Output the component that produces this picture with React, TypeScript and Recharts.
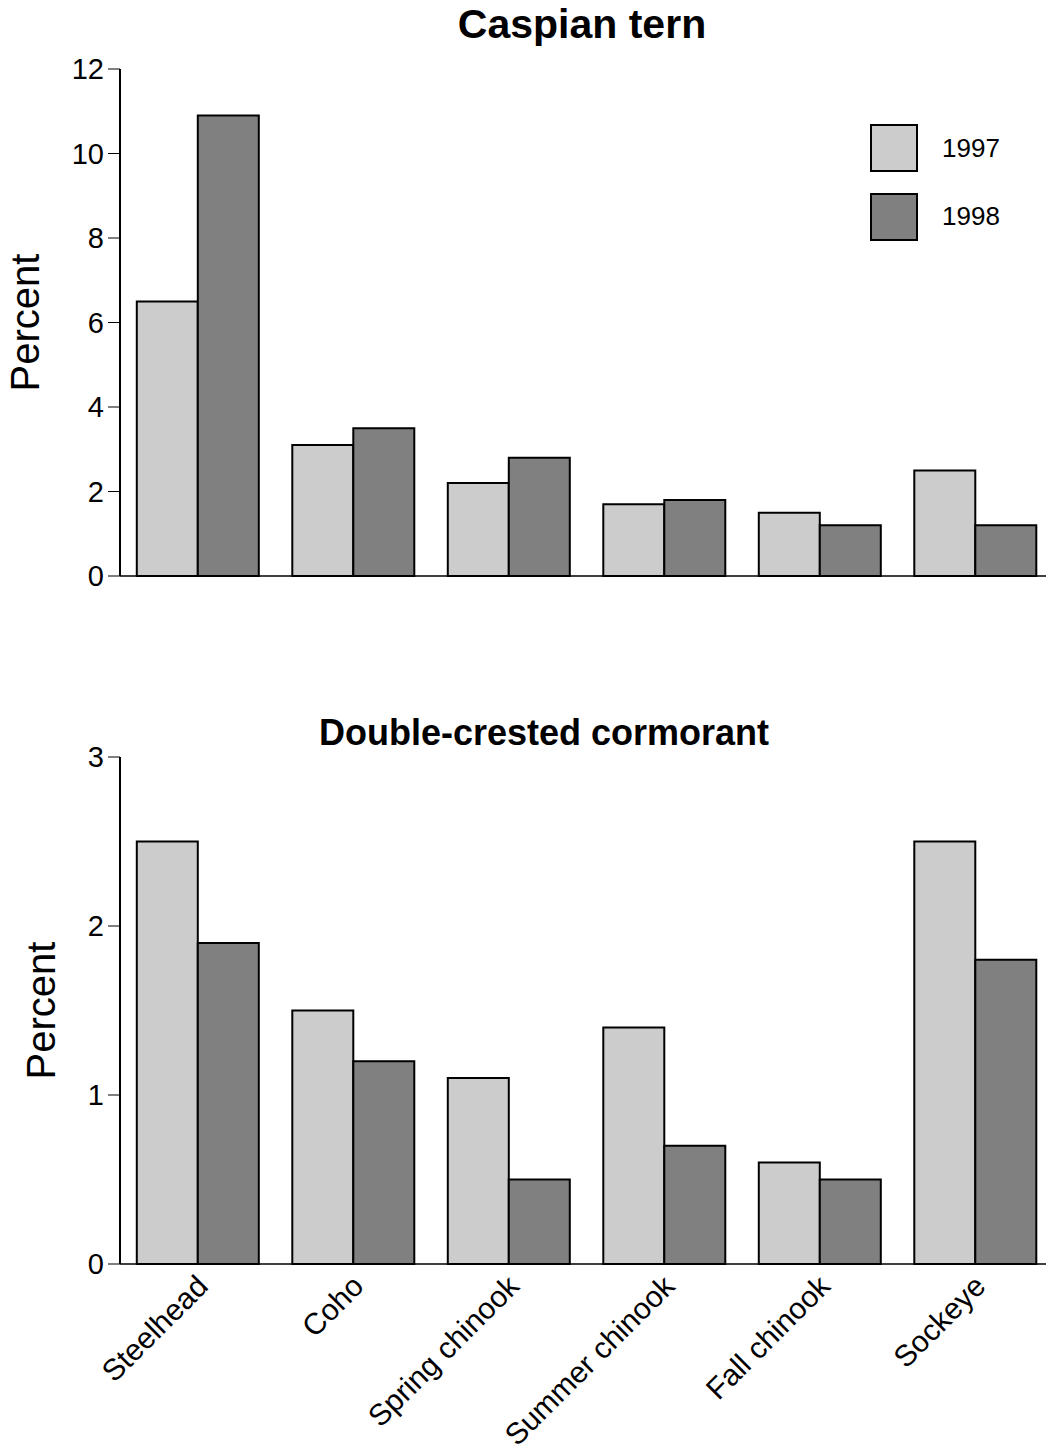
import React from 'react';
import { BarChart, Bar, XAxis, YAxis, Legend } from 'recharts';

const FONT = '"Liberation Sans", Arial, Helvetica, sans-serif';

const categories = ['Steelhead', 'Coho', 'Spring chinook', 'Summer chinook', 'Fall chinook', 'Sockeye'];
const tern1997 = [6.5, 3.1, 2.2, 1.7, 1.5, 2.5];
const tern1998 = [10.9, 3.5, 2.8, 1.8, 1.2, 1.2];
const cormorant1997 = [2.5, 1.5, 1.1, 1.4, 0.6, 2.5];
const cormorant1998 = [1.9, 1.2, 0.5, 0.7, 0.5, 1.8];
const ternTicks = [0, 2, 4, 6, 8, 10, 12];
const cormorantTicks = [0, 1, 2, 3];
const seriesNames = ['1997', '1998'];
const titles = ['Caspian tern', 'Double-crested cormorant'];
const yLabel = 'Percent';

const ternData = categories.map((c, i) => ({ category: c, a: tern1997[i], b: tern1998[i] }));
const cormorantData = categories.map((c, i) => ({ category: c, a: cormorant1997[i], b: cormorant1998[i] }));

const LIGHT = '#cccccc';
const DARK = '#808080';

const LegendContent = (props: any) => {
  const payload = props.payload || [];
  return (
    <svg width={170} height={130} style={{ display: 'block' }}>
      {payload.map((p: any, i: number) => (
        <g key={i}>
          <rect x={1} y={1 + i * 69} width={46} height={46} fill={p.color} stroke="#000" strokeWidth={2} />
          <text x={72} y={33 + i * 68} fontSize={26} fontFamily={FONT} fill="#000">
            {p.value}
          </text>
        </g>
      ))}
    </svg>
  );
};

const AngledTick = (props: any) => {
  const { x, y, payload } = props;
  const ax = x - 3;
  return (
    <text
      x={ax}
      y={y}
      transform={`rotate(-45, ${ax}, ${y})`}
      textAnchor="end"
      dy="0.71em"
      fontSize={30}
      fontFamily={FONT}
      fill="#000"
    >
      {payload.value}
    </text>
  );
};

const tickStyle = { fill: '#000', fontSize: 29, fontFamily: FONT };

export default function App() {
  return (
    <div style={{ position: 'absolute', left: 0, top: 0, width: 1046, height: 1451, overflow: 'hidden', background: '#fff' }}>
      <div style={{ position: 'absolute', left: 0, top: 0 }}>
        <BarChart
          width={1060}
          height={600}
          data={ternData}
          margin={{ top: 69, right: 7, left: 0, bottom: 0 }}
          barCategoryGap="10.8%"
          barGap={0}
        >
          <text x={582} y={38} textAnchor="middle" fontSize={41} fontWeight="bold" fontFamily={FONT} fill="#000">
            {titles[0]}
          </text>
          <XAxis
            dataKey="category"
            height={24}
            tick={false}
            tickLine={false}
            axisLine={{ stroke: '#000', strokeWidth: 1.5 }}
          />
          <YAxis
            width={120}
            domain={[0, 12]}
            ticks={ternTicks}
            interval={0}
            tick={tickStyle}
            tickSize={12}
            tickMargin={4}
            tickLine={{ stroke: '#000', strokeWidth: 1 }}
            axisLine={{ stroke: '#000', strokeWidth: 2 }}
            label={{
              value: yLabel,
              angle: -90,
              position: 'insideLeft',
              offset: 25,
              style: { textAnchor: 'middle', fontSize: 40, fill: '#000', fontFamily: FONT },
            }}
          />
          <Legend
            layout="vertical"
            align="center"
            verticalAlign="middle"
            wrapperStyle={{ left: 870, top: 124, width: 170 }}
            content={<LegendContent />}
          />
          <Bar dataKey="a" name={seriesNames[0]} fill={LIGHT} stroke="#000" strokeWidth={2} isAnimationActive={false} />
          <Bar dataKey="b" name={seriesNames[1]} fill={DARK} stroke="#000" strokeWidth={2} isAnimationActive={false} />
        </BarChart>
      </div>
      <div style={{ position: 'absolute', left: 0, top: 680 }}>
        <BarChart
          width={1060}
          height={771}
          data={cormorantData}
          margin={{ top: 77, right: 7, left: 0, bottom: 0 }}
          barCategoryGap="10.8%"
          barGap={0}
        >
          <text x={544} y={65} textAnchor="middle" fontSize={36} fontWeight="bold" fontFamily={FONT} fill="#000">
            {titles[1]}
          </text>
          <XAxis
            dataKey="category"
            height={187}
            interval={0}
            tick={<AngledTick />}
            tickLine={false}
            tickSize={6}
            tickMargin={3}
            axisLine={{ stroke: '#000', strokeWidth: 1.5 }}
          />
          <YAxis
            width={120}
            domain={[0, 3]}
            ticks={cormorantTicks}
            interval={0}
            tick={tickStyle}
            tickSize={12}
            tickMargin={4}
            tickLine={{ stroke: '#000', strokeWidth: 1 }}
            axisLine={{ stroke: '#000', strokeWidth: 2 }}
            label={{
              value: yLabel,
              angle: -90,
              position: 'insideLeft',
              offset: 41,
              style: { textAnchor: 'middle', fontSize: 40, fill: '#000', fontFamily: FONT },
            }}
          />
          <Bar dataKey="a" name={seriesNames[0]} fill={LIGHT} stroke="#000" strokeWidth={2} isAnimationActive={false} />
          <Bar dataKey="b" name={seriesNames[1]} fill={DARK} stroke="#000" strokeWidth={2} isAnimationActive={false} />
        </BarChart>
      </div>
    </div>
  );
}
